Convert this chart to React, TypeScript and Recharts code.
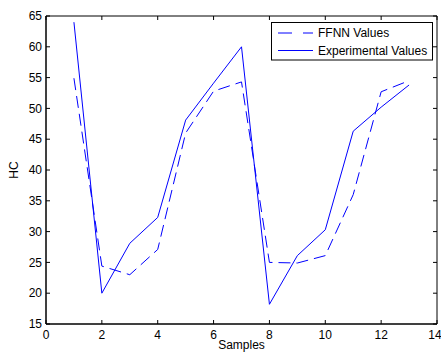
import React from "react";
import { LineChart, Line, XAxis, YAxis, Label, ReferenceLine, ReferenceArea } from "recharts";

const samples = [1, 2, 3, 4, 5, 6, 7, 8, 9, 10, 11, 12, 13];
const ffnnValues = [54.9, 24.4, 23.0, 27.1, 46.0, 52.8, 54.3, 25.0, 24.9, 26.1, 36.0, 52.7, 54.5];
const experimentalValues = [64.0, 20.0, 28.1, 32.3, 48.1, 54.1, 60.0, 18.2, 26.1, 30.3, 46.3, 50.2, 53.8];
const xTicks = [0, 2, 4, 6, 8, 10, 12, 14];
const yTicks = [15, 20, 25, 30, 35, 40, 45, 50, 55, 60, 65];

const data = samples.map((s, i) => ({
  x: s,
  ffnn: ffnnValues[i],
  exp: experimentalValues[i],
}));

const FONT = "'Liberation Sans', Arial, Helvetica, sans-serif";
const BLUE = "#0000ff";
const TICK_LEN = 4;

const TopTick = (p: any) => {
  const x = p.x1;
  const top = Math.min(p.y1, p.y2);
  return <line x1={x} x2={x} y1={top} y2={top + TICK_LEN} stroke="#000" strokeWidth={1} />;
};

const RightTick = (p: any) => {
  const y = p.y1;
  const right = Math.max(p.x1, p.x2);
  return <line x1={right} x2={right - TICK_LEN} y1={y} y2={y} stroke="#000" strokeWidth={1} />;
};

const LegendBox = () => (
  <svg width={163} height={40} style={{ display: "block" }}>
    <rect x={0.5} y={0.5} width={161} height={37.5} fill="#ffffff" stroke="#000000" strokeWidth={1} />
    <line x1={7} y1={11} x2={42} y2={11} stroke={BLUE} strokeWidth={1} strokeDasharray="14 11" />
    <text x={47} y={11} dy="0.355em" fontSize={12} fontFamily={FONT} fill="#000">FFNN Values</text>
    <line x1={7} y1={28.5} x2={42} y2={28.5} stroke={BLUE} strokeWidth={1} />
    <text x={47} y={28.5} dy="0.355em" fontSize={12} fontFamily={FONT} fill="#000">Experimental Values</text>
  </svg>
);

export default function App() {
  return (
    <div style={{ position: "absolute", left: 0, top: 0, width: 441, height: 353, background: "#fff", fontFamily: FONT }}>
      <LineChart width={441} height={353} data={data} margin={{ top: 16, right: 4, bottom: 9, left: 0 }}>
        <XAxis
          dataKey="x"
          type="number"
          domain={[0, 14]}
          ticks={xTicks}
          allowDataOverflow
          height={20}
          tickSize={-4}
          tickMargin={10}
          axisLine={{ stroke: "#000" }}
          tickLine={{ stroke: "#000" }}
          tick={{ fill: "#000", fontSize: 12, fontFamily: FONT }}
        >
          <Label
            content={(props: any) => {
              const vb = props.viewBox || {};
              return (
                <text x={vb.x + vb.width / 2} y={vb.y + 25} textAnchor="middle" fontSize={12} fontFamily={FONT} fill="#000">
                  Samples
                </text>
              );
            }}
          />
        </XAxis>
        <YAxis
          type="number"
          domain={[15, 65]}
          ticks={yTicks}
          allowDataOverflow
          width={46}
          tickSize={-4}
          tickMargin={8}
          axisLine={{ stroke: "#000" }}
          tickLine={{ stroke: "#000" }}
          tick={{ fill: "#000", fontSize: 12, fontFamily: FONT }}
        >
          <Label
            content={(props: any) => {
              const vb = props.viewBox || {};
              const cy = vb.y + vb.height / 2;
              return (
                <text x={18} y={cy} transform={`rotate(-90, 18, ${cy})`} textAnchor="middle" fontSize={12} fontFamily={FONT} fill="#000">
                  HC
                </text>
              );
            }}
          />
        </YAxis>
        <ReferenceArea x1={0} x2={14} y1={15} y2={65} fill="none" fillOpacity={0} stroke="#000" strokeWidth={1} ifOverflow="visible" />
        {xTicks.map((t) => (
          <ReferenceLine key={`xt${t}`} x={t} ifOverflow="visible" shape={TopTick} />
        ))}
        {yTicks.map((t) => (
          <ReferenceLine key={`yt${t}`} y={t} ifOverflow="visible" shape={RightTick} />
        ))}
        <Line
          type="linear"
          dataKey="ffnn"
          name="FFNN Values"
          stroke={BLUE}
          strokeWidth={1}
          strokeDasharray="12 6"
          dot={false}
          isAnimationActive={false}
        />
        <Line
          type="linear"
          dataKey="exp"
          name="Experimental Values"
          stroke={BLUE}
          strokeWidth={1}
          dot={false}
          isAnimationActive={false}
        />
      </LineChart>
      <div style={{ position: "absolute", left: 271, top: 22, width: 163, height: 40 }}>
        <LegendBox />
      </div>
    </div>
  );
}
